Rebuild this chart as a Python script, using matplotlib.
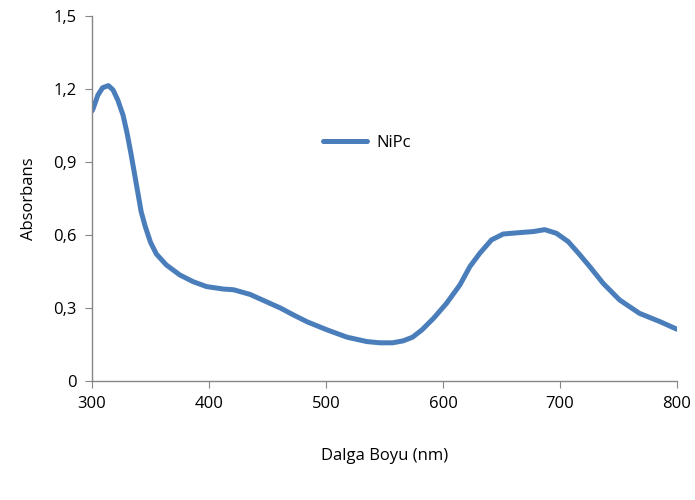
import matplotlib
matplotlib.use("Agg")
import matplotlib.pyplot as plt
from matplotlib.ticker import FuncFormatter

plt.rcParams['font.family'] = ['Open Sans', 'DejaVu Sans']

wavelength = [300, 301, 305, 309, 314, 318, 322, 326.5, 330, 333.5, 336.5, 339.5, 342,
              345.5, 350, 355, 363.5, 375, 386.5, 398, 412, 421, 435, 448, 461, 472,
              484, 501, 518, 535, 546, 557, 566, 574, 582, 592, 603, 614.5, 623, 631.5,
              641.5, 651.5, 666, 677, 687, 697, 707, 715.5, 725.5, 737, 751, 768, 785.5,
              798, 800]
absorbance = [1.11, 1.12, 1.175, 1.205, 1.214, 1.196, 1.155, 1.093, 1.018, 0.929, 0.847,
              0.765, 0.696, 0.635, 0.57, 0.522, 0.477, 0.436, 0.408, 0.388, 0.378, 0.375,
              0.356, 0.328, 0.30, 0.272, 0.243, 0.21, 0.18, 0.162, 0.157, 0.157, 0.165,
              0.18, 0.21, 0.258, 0.319, 0.395, 0.47, 0.525, 0.58, 0.604, 0.61, 0.614,
              0.622, 0.607, 0.573, 0.527, 0.47, 0.401, 0.333, 0.278, 0.244, 0.217, 0.213]
series_name = "NiPc"
x_ticks = [300, 400, 500, 600, 700, 800]
y_ticks = [0, 0.3, 0.6, 0.9, 1.2, 1.5]

fig = plt.figure(figsize=(6.95, 5.0), dpi=100)
ax = fig.add_axes([0.1324, 0.238, 0.8416, 0.730])
ax.plot(wavelength, absorbance, color='#4a7ebb', lw=3.6, solid_capstyle='round',
        solid_joinstyle='round', label=series_name)
ax.set_xlim(300, 800)
ax.set_ylim(0, 1.5)
ax.set_xticks(x_ticks)
ax.set_yticks(y_ticks)
ax.yaxis.set_major_formatter(FuncFormatter(lambda v, p: ('%g' % round(v, 1)).replace('.', ',')))
for s in ['top', 'right']:
    ax.spines[s].set_visible(False)
for s in ['left', 'bottom']:
    ax.spines[s].set_color('#868686')
    ax.spines[s].set_linewidth(1.0)
ax.tick_params(direction='out', length=5, color='#868686', labelsize=12, pad=6)
ax.set_xlabel('Dalga Boyu (nm)', fontsize=12, labelpad=26)
ax.set_ylabel('Absorbans', fontsize=12, labelpad=12)
ax.legend(loc='center left', bbox_to_anchor=(0.37, 0.652), frameon=False, fontsize=12,
          handlelength=2.6, handletextpad=0.6)
fig.savefig('out.png', dpi=100)
